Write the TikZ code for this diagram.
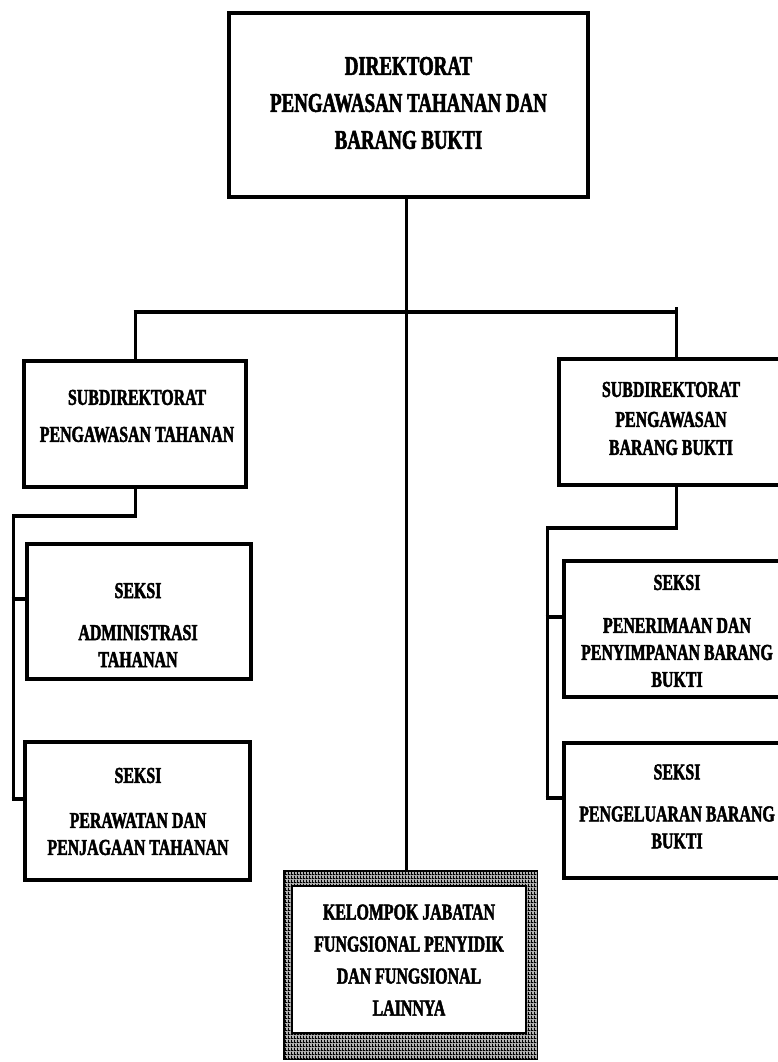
\documentclass[tikz,border=0pt]{standalone}
\usepackage{fontspec}
\newfontfamily\orgfont{Liberation Serif}[FakeStretch=0.7, BoldFeatures={FakeBold=2}]
\usetikzlibrary{patterns}

% coarse mesh used for the frame of the functional group box
\pgfdeclarepatternformonly{mesh}{\pgfpointorigin}{\pgfpoint{3pt}{4pt}}{\pgfpoint{3pt}{4pt}}{
  \pgfsetlinewidth{1.2pt}
  \pgfpathmoveto{\pgfpoint{0pt}{0.6pt}}
  \pgfpathlineto{\pgfpoint{3pt}{0.6pt}}
  \pgfpathmoveto{\pgfpoint{0.6pt}{0pt}}
  \pgfpathlineto{\pgfpoint{0.6pt}{4pt}}
  \pgfusepath{stroke}
}

\tikzset{
  box/.style={draw=black, line width=4.3pt, fill=white, inner sep=0pt},
  label text/.style={font=\orgfont\bfseries\fontsize{22.7}{27}\selectfont,
                     align=center, inner sep=0pt},
  head text/.style={font=\orgfont\bfseries\fontsize{27}{37}\selectfont,
                    align=center, inner sep=0pt},
  trunk/.style={draw=black, line width=3pt},
  rail/.style={draw=black, line width=4pt},
  hatchband/.style={draw=black, line width=1.5pt, preaction={fill=black!30},
                    pattern=mesh, pattern color=black, inner sep=0pt},
  innerbox/.style={draw=black, line width=2.5pt, fill=white, inner sep=0pt},
}

\begin{document}
\begin{tikzpicture}[x=1pt, y=-1pt]
  \useasboundingbox (0,0) rectangle (778,1062);
  \fill[white] (0,0) rectangle (778,1062);
  \clip (0,0) rectangle (778,1062);

  % ---- boxes ----
  \node[box, minimum width=359pt, minimum height=184pt] (dir) at (408.5,105) {};
  \node[box, minimum width=222pt, minimum height=126pt] (subL) at (135,424) {};
  \node[box, minimum width=224pt, minimum height=126pt] (subR) at (671,422) {};
  \node[box, minimum width=224pt, minimum height=135pt] (secLa) at (139,611.5) {};
  \node[box, minimum width=225pt, minimum height=138pt] (secLb) at (137.5,811) {};
  \node[box, minimum width=226pt, minimum height=136pt] (secRa) at (677,629) {};
  \node[box, minimum width=226pt, minimum height=135pt] (secRb) at (677,810.5) {};

  % functional group box with hatched frame
  \node[hatchband, minimum width=253.5pt, minimum height=188.5pt] (kel) at (410.5,965) {};
  \node[innerbox, minimum width=234pt, minimum height=147pt] (kelIn) at (409,959.5) {};

  % ---- texts ----
  \node[head text] (dirT) at (408.5,103)
    {DIREKTORAT\\PENGAWASAN TAHANAN DAN\\BARANG BUKTI};
  \node[label text] (subLT) at (137,416)
    {SUBDIREKTORAT\\[10pt]PENGAWASAN TAHANAN};
  \node[label text] (subRT) at (671,418.5)
    {SUBDIREKTORAT\\[3pt]PENGAWASAN\\[1pt]BARANG BUKTI};
  \node[label text] (secLaT) at (138,625)
    {SEKSI\\[15pt]ADMINISTRASI\\TAHANAN};
  \node[label text] (secLbT) at (138,811.5)
    {SEKSI\\[18pt]PERAWATAN DAN\\PENJAGAAN TAHANAN};
  \node[label text] (secRaT) at (677,631)
    {SEKSI\\[16pt]PENERIMAAN DAN\\PENYIMPANAN BARANG\\BUKTI};
  \node[label text] (secRbT) at (677,806.5)
    {SEKSI\\[15pt]PENGELUARAN BARANG\\BUKTI};
  \node[label text] (kelT) at (409,960)
    {KELOMPOK JABATAN\\[5pt]FUNGSIONAL PENYIDIK\\[5pt]DAN FUNGSIONAL\\[5pt]LAINNYA};

  % ---- junction points ----
  \coordinate (spine) at (406,312);
  \coordinate (barL) at (135,312);
  \coordinate (barR) at (676,312);
  \coordinate (joinL) at (13,516);
  \coordinate (tickLa) at (13,599);
  \coordinate (tickLb) at (13,799);
  \coordinate (joinR) at (547,528);
  \coordinate (tickRa) at (547,617);
  \coordinate (tickRb) at (547,798);

  % ---- connectors ----
  \draw[trunk] (dir.south -| spine) -- (kel.north -| spine);
  \draw[rail] ([xshift=-1.5pt]barL) -- ([xshift=1.5pt]barR);
  \draw[trunk] ([yshift=2pt]barL) -- (subL.north);
  \draw[trunk] ([yshift=5pt]barR) -- (subR.north -| barR);

  % left branch
  \draw[trunk] (subL.south) -- (subL.south |- joinL);
  \draw[rail] ([xshift=1.5pt]subL.south |- joinL) -- ([xshift=-1.5pt]joinL);
  \draw[trunk] ([yshift=2pt]joinL) -- ([yshift=-2pt]tickLb);
  \draw[rail] ([xshift=-1.5pt]tickLa) -- (tickLa -| secLa.west);
  \draw[rail] ([xshift=-1.5pt]tickLb) -- (tickLb -| secLb.west);

  % right branch
  \draw[trunk] (subR.south -| barR) -- (barR |- joinR);
  \draw[rail] ([xshift=1.5pt]barR |- joinR) -- ([xshift=-1.5pt]joinR);
  \draw[trunk] ([yshift=2pt]joinR) -- ([yshift=-2pt]tickRb);
  \draw[rail] ([xshift=-1.5pt]tickRa) -- (tickRa -| secRa.west);
  \draw[rail] ([xshift=-1.5pt]tickRb) -- (tickRb -| secRb.west);
\end{tikzpicture}
\end{document}
